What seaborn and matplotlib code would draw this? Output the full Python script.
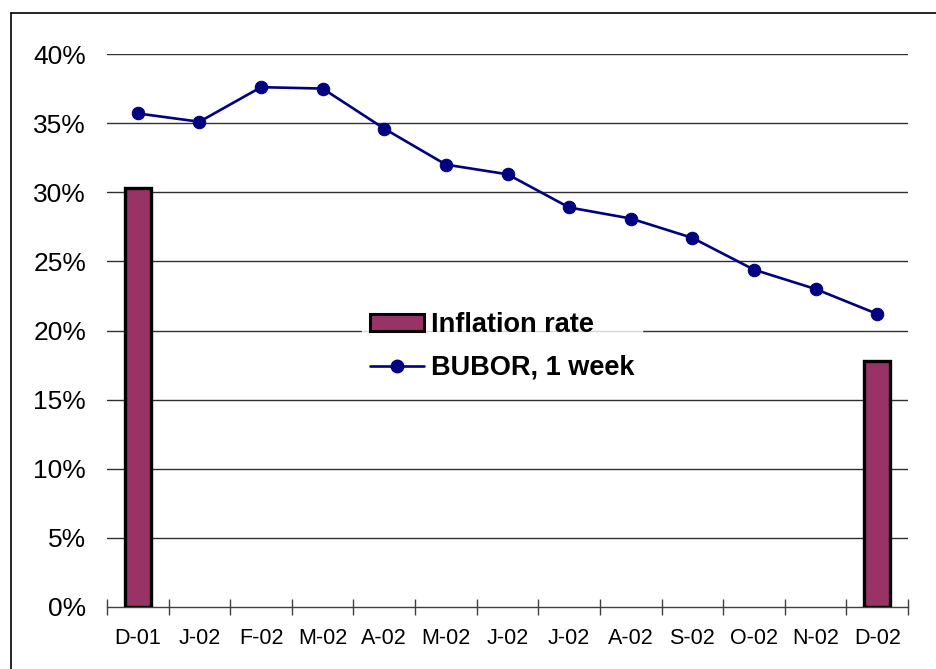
import matplotlib
matplotlib.use("Agg")
import matplotlib.pyplot as plt
from matplotlib.lines import Line2D
from matplotlib.patches import Patch
from matplotlib.ticker import FuncFormatter, FixedLocator
import seaborn as sns
import pandas as pd
import numpy as np

months = ["D-01", "J-02", "F-02", "M-02", "A-02", "M-02", "J-02",
          "J-02", "A-02", "S-02", "O-02", "N-02", "D-02"]
bubor_1w = [35.7, 35.1, 37.6, 37.5, 34.6, 32.0, 31.3,
            28.9, 28.1, 26.7, 24.4, 23.0, 21.2]
inflation = [30.3, np.nan, np.nan, np.nan, np.nan, np.nan, np.nan,
             np.nan, np.nan, np.nan, np.nan, np.nan, 17.8]
y_ticks = [0, 5, 10, 15, 20, 25, 30, 35, 40]

sns.set_theme(style="white")
plt.rcParams["font.family"] = ["Liberation Sans", "DejaVu Sans"]
plt.rcParams["text.color"] = "black"

bar_color = "#993366"
line_color = "#000080"

pos = np.arange(len(months))
df = pd.DataFrame({"pos": pos, "bubor": bubor_1w, "infl": inflation})

fig = plt.figure(figsize=(9.36, 6.69), dpi=100)
ax = fig.add_axes([107 / 936, 1 - 607 / 669, (908 - 107) / 936, (607 - 54) / 669])

# inflation bars at the first and last month only
bar_df = df.dropna(subset=["infl"])
ax.bar(bar_df["pos"], bar_df["infl"], width=0.42, color=bar_color,
       edgecolor="black", linewidth=2.4, zorder=3)

sns.lineplot(data=df, x="pos", y="bubor", ax=ax, color=line_color,
             linewidth=1.9, marker="o", markersize=9,
             markeredgecolor=line_color, markerfacecolor=line_color, zorder=4)

ax.set_xlim(-0.5, len(months) - 0.5)
ax.set_ylim(0, 40)
ax.set_yticks(y_ticks)
ax.yaxis.set_major_formatter(FuncFormatter(lambda v, _: f"{v:.0f}%"))
ax.set_xticks(pos)
ax.set_xticklabels(months)
ax.xaxis.set_minor_locator(FixedLocator(np.arange(-0.5, len(months), 1.0)))
ax.set_xlabel("")
ax.set_ylabel("")

for y in y_ticks[1:]:
    ax.axhline(y, color="#303030", linewidth=1.0, zorder=1)

for side in ["top", "right", "left"]:
    ax.spines[side].set_visible(False)
ax.spines["bottom"].set_color("#404040")
ax.spines["bottom"].set_linewidth(1.0)

ax.tick_params(axis="y", length=0, labelsize=19, pad=15, colors="black")
ax.tick_params(axis="x", which="major", length=0, labelsize=15.5, pad=15, colors="black")
ax.tick_params(axis="x", which="minor", direction="inout", length=12, width=1.0,
               color="#404040", bottom=True)

handles = [
    Patch(facecolor=bar_color, edgecolor="black", linewidth=2.2),
    Line2D([0], [0], color=line_color, linewidth=1.9, marker="o",
           markersize=9, markerfacecolor=line_color, markeredgecolor=line_color),
]
leg = ax.legend(handles, ["Inflation rate", "BUBOR, 1 week"],
                loc="center", bbox_to_anchor=(0.493, 0.471), frameon=True,
                prop={"weight": "bold", "size": 19.5}, handlelength=2.0,
                handleheight=0.6, handletextpad=0.25, labelspacing=0.62,
                borderpad=0.3, borderaxespad=0, labelcolor="black")
leg.get_frame().set_facecolor("white")
leg.get_frame().set_edgecolor("white")
leg.set_zorder(5)

# outer chart border (top and left edges)
fig.add_artist(Line2D([11 / 936, 11 / 936], [0, 1 - 13 / 669],
                      transform=fig.transFigure, color="black", linewidth=1.2))
fig.add_artist(Line2D([11 / 936, 1], [1 - 13 / 669, 1 - 13 / 669],
                      transform=fig.transFigure, color="black", linewidth=1.2))

fig.savefig("out.png", dpi=100, facecolor="white")
